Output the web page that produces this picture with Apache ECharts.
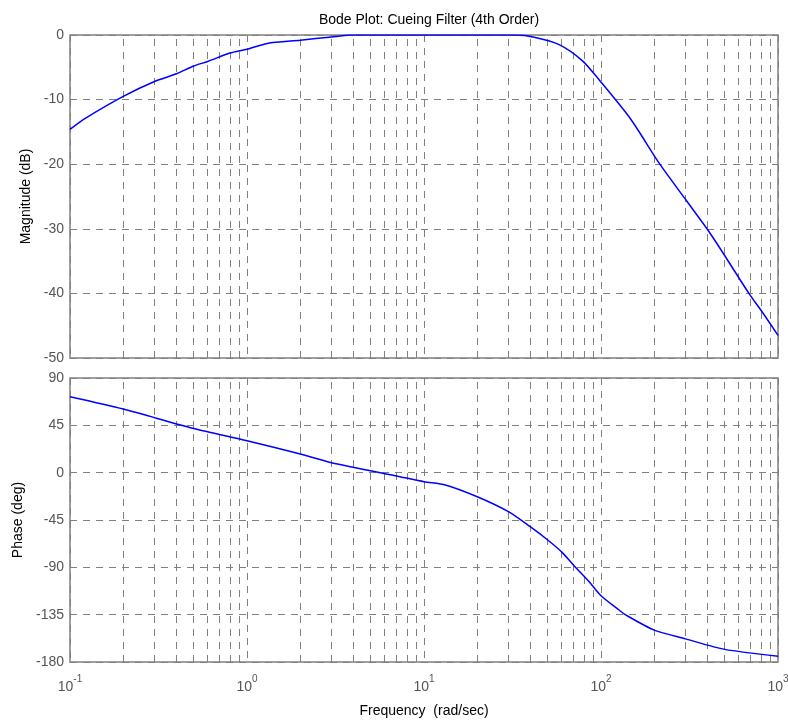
<!DOCTYPE html>
<html>
<head>
<meta charset="utf-8">
<script src="https://cdn.jsdelivr.net/npm/echarts@6/dist/echarts.min.js"></script>
<style>html,body{margin:0;padding:0;background:#fff}#c{width:788px;height:723px}</style>
</head>
<body>
<div id="c"></div>
<script>
// ---- data ----
var magFreq = [0.1, 0.122, 0.2, 0.3, 0.4, 0.5, 0.6, 0.8, 1, 1.3, 2, 3, 4, 10, 33, 42, 58, 78.6, 98, 147, 215, 305, 397, 480, 685, 820, 1000];
var magDb   = [-14.6, -12.9, -9.5, -7.2, -6.0, -4.8, -4.1, -2.8, -2.2, -1.3, -0.8, -0.3, 0, 0, 0, -0.35, -1.5, -4.0, -7.0, -13.0, -20, -25.7, -30, -33.4, -40, -43.0, -46.5];
var phFreq  = [0.1, 0.2, 0.5, 1, 2, 3, 7.3, 10, 13.2, 20, 30, 39.8, 50, 60.5, 70, 86, 100, 127, 137, 200, 300, 500, 1000];
var phDeg   = [72.2, 60.5, 42, 30.4, 17.7, 9.5, -3.8, -8.6, -11.7, -22.9, -37.1, -51.4, -64, -76, -88, -104, -117, -130.8, -135, -149.7, -158, -168, -174.5];
var minorFreqs = [0.2,0.3,0.4,0.5,0.6,0.7,0.8,0.9, 2,3,4,5,6,7,8,9, 20,30,40,50,60,70,80,90, 200,300,400,500,600,700,800,900];
var magTicks = [0, -10, -20, -30, -40, -50];
var phTicks = [90, 45, 0, -45, -90, -135, -180];

var chart = echarts.init(document.getElementById('c'));
var gridColor = '#808080';
var labelColor = '#555';
var FONT = 'Liberation Sans, Arial, sans-serif';

function pairs(xs, ys){ return xs.map(function(x,i){ return [x, ys[i]]; }); }
var minorLines = minorFreqs.map(function(f){ return {xAxis: f}; });
var dashed = {type:[7,6], color: gridColor, width: 1};

function xAx(idx, showLabel){
  return {
    type: 'log', logBase: 10, gridIndex: idx, min: 0.1, max: 1000,
    axisLine: {show: false}, axisTick: {show: false},
    splitLine: {show: true, lineStyle: dashed},
    axisLabel: showLabel ? {
      show: true, margin: 12,
      formatter: function(v){ var e = Math.round(Math.log10(v)); return '{b|10}{e|' + e + '}'; },
      rich: {
        b: {fontFamily: FONT, fontSize: 14, color: labelColor, verticalAlign: 'bottom', lineHeight: 20},
        e: {fontFamily: FONT, fontSize: 10, color: labelColor, verticalAlign: 'top', lineHeight: 20}
      }
    } : {show: false},
    name: showLabel ? 'Frequency  (rad/sec)' : '',
    nameLocation: 'middle', nameGap: 42,
    nameTextStyle: {fontFamily: FONT, fontSize: 14, color: '#000'}
  };
}
function yAx(idx, min, max, interval, name){
  return {
    type: 'value', gridIndex: idx, min: min, max: max, interval: interval,
    axisLine: {show: false}, axisTick: {show: false},
    splitLine: {show: true, lineStyle: dashed},
    axisLabel: {fontFamily: FONT, fontSize: 14, color: labelColor, margin: 6},
    name: name, nameLocation: 'middle', nameGap: 37, nameRotate: 90,
    nameTextStyle: {fontFamily: FONT, fontSize: 14, color: '#000'}
  };
}

chart.setOption({
  animation: false,
  backgroundColor: '#fff',
  title: {
    text: 'Bode Plot: Cueing Filter (4th Order)', left: 424, top: 8, textAlign: 'center',
    textStyle: {fontFamily: FONT, fontSize: 14, fontWeight: 'normal', color: '#000'}
  },
  grid: [
    {left: 70, top: 35, width: 708, height: 323, show: true, borderColor: gridColor, borderWidth: 1.5, backgroundColor: 'transparent', containLabel: false, outerBoundsMode: 'none'},
    {left: 70, top: 378, width: 708, height: 284, show: true, borderColor: gridColor, borderWidth: 1.5, backgroundColor: 'transparent', containLabel: false, outerBoundsMode: 'none'}
  ],
  xAxis: [xAx(0, false), xAx(1, true)],
  yAxis: [yAx(0, -50, 0, 10, 'Magnitude (dB)'), yAx(1, -180, 90, 45, 'Phase (deg)')],
  series: [
    {
      type: 'line', xAxisIndex: 0, yAxisIndex: 0, data: pairs(magFreq, magDb),
      showSymbol: false, smooth: 0.25, clip: true, lineStyle: {color: '#0000ff', width: 1.5}, z: 5,
      markLine: {silent: true, symbol: 'none', label: {show: false}, lineStyle: dashed, data: minorLines, animation: false}
    },
    {
      type: 'line', xAxisIndex: 1, yAxisIndex: 1, data: pairs(phFreq, phDeg),
      showSymbol: false, smooth: 0.25, clip: true, lineStyle: {color: '#0000ff', width: 1.5}, z: 5,
      markLine: {silent: true, symbol: 'none', label: {show: false}, lineStyle: dashed, data: minorLines, animation: false}
    }
  ]
});
</script>
</body>
</html>
